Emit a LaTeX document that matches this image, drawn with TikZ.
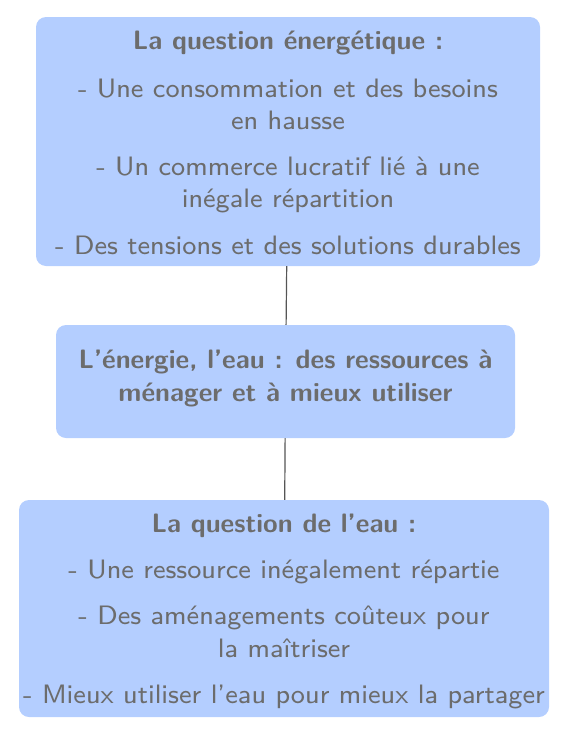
\documentclass[tikz,border=0pt]{standalone}
\usepackage{tikz}
\usetikzlibrary{positioning}
\definecolor{boxblue}{RGB}{180,206,255}
\definecolor{txtgray}{RGB}{108,108,108}
\definecolor{linkgray}{RGB}{85,85,85}
% text set small and blown up, as in the reference; optional vertical nudge
\newcommand{\topictext}[2][0pt]{\raisebox{#1}[\height][\depth]{\scalebox{3.33}{\begin{tabular}{@{}c@{}}#2\end{tabular}}}}

\begin{document}
\begin{tikzpicture}[x=1pt,y=1pt,
  topic/.style={fill=boxblue,rounded corners=10pt,align=center,text=txtgray,
    font=\sffamily\fontsize{8}{9.68}\selectfont,inner sep=0pt},
  link/.style={draw=linkgray,line width=1.2pt}]
\useasboundingbox (0,0) rectangle (568,-736);
\node[topic,minimum width=504pt,minimum height=249pt] (energie) at (288,-141.5)
  {\topictext[-4pt]{\textbf{La question énergétique :}\\[4.5pt]
   - Une consommation et des besoins\\en hausse\\[4.2pt]
   - Un commerce lucratif lié à une\\inégale répartition\\[4.2pt]
   - Des tensions et des solutions durables}};
\node[topic,minimum width=459pt,minimum height=113pt] (ressources) at (285.5,-381.5)
  {\topictext[3pt]{\textbf{L’énergie, l’eau : des ressources à}\\\textbf{ménager et à mieux utiliser}}};
\node[topic,minimum width=530pt,minimum height=217pt] (eau) at (284,-608.5)
  {\topictext[-3pt]{\textbf{La question de l’eau :}\\[4.2pt]
   - Une ressource inégalement répartie\\[4.2pt]
   - Des aménagements coûteux pour\\la maîtriser\\[4.2pt]
   - Mieux utiliser l’eau pour mieux la partager}};
\draw[link] (energie) -- (ressources);
\draw[link] (ressources) -- (eau);
\end{tikzpicture}
\end{document}
